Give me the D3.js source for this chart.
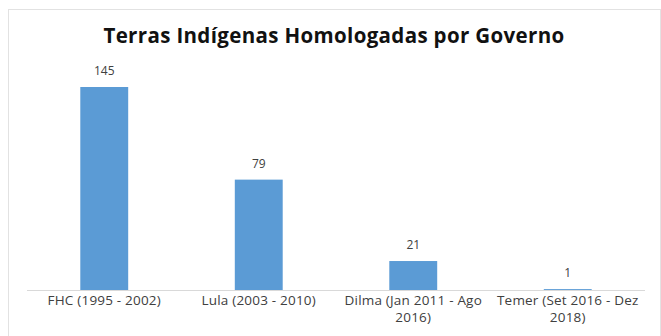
<!DOCTYPE html>
<html>
<head>
<meta charset="utf-8">
<script src="https://d3js.org/d3.v7.min.js"></script>
<style>
    body { margin: 0; background: #fff; }
    text { font-family: "Open Sans", sans-serif; fill: #404040; }
</style>
</head>
<body>
<script>
    // data
    var governos = [
        ["FHC (1995 - 2002)"],
        ["Lula (2003 - 2010)"],
        ["Dilma (Jan 2011 - Ago", "2016)"],
        ["Temer (Set 2016 - Dez", "2018)"]
    ];
    var terras = [145, 79, 21, 1];
    var titulo = "Terras Indígenas Homologadas por Governo";

    var w = 661, h = 336;

    var svg = d3.select("body").append("svg")
        .attr("width", w)
        .attr("height", h);

    // moldura
    svg.append("rect")
        .attr("x", 8.5).attr("y", 9.5)
        .attr("width", 652).attr("height", 330)
        .attr("fill", "#fff")
        .attr("stroke", "#e2e2e2");

    var x = d3.scaleBand()
        .domain(d3.range(terras.length))
        .range([27, 645])
        .paddingInner(0.69)
        .paddingOuter(0.345);

    var y = d3.scaleLinear()
        .domain([0, 145])
        .range([290.5, 87]);

    svg.append("text")
        .attr("x", 334).attr("y", 43)
        .attr("text-anchor", "middle")
        .style("font-size", "20.5px")
        .style("letter-spacing", "0.35px")
        .style("font-weight", "bold")
        .style("fill", "#111")
        .text(titulo);

    svg.selectAll("rect.bar").data(terras).enter().append("rect")
        .attr("class", "bar")
        .attr("x", function(d, i) { return x(i); })
        .attr("y", function(d) { return y(d); })
        .attr("width", x.bandwidth())
        .attr("height", function(d) { return y(0) - y(d); })
        .attr("fill", "#5b9bd5");

    svg.selectAll("text.val").data(terras).enter().append("text")
        .attr("class", "val")
        .attr("x", function(d, i) { return x(i) + x.bandwidth() / 2; })
        .attr("y", function(d) { return y(d) - 12; })
        .attr("text-anchor", "middle")
        .style("font-size", "12px")
        .text(function(d) { return d; });

    // eixo
    svg.append("line")
        .attr("x1", 27).attr("x2", 645)
        .attr("y1", y(0)).attr("y2", y(0))
        .attr("stroke", "#d9d9d9")
        .attr("stroke-width", 1);

    var lab = svg.selectAll("text.cat").data(governos).enter().append("text")
        .attr("class", "cat")
        .attr("x", function(d, i) { return x(i) + x.bandwidth() / 2; })
        .attr("y", 305)
        .attr("text-anchor", "middle")
        .style("font-size", "13.5px")
        .style("letter-spacing", "0.2px");

    lab.selectAll("tspan").data(function(d) { return d; }).enter().append("tspan")
        .attr("x", function() { return d3.select(this.parentNode).attr("x"); })
        .attr("dy", function(d, i) { return i ? 17 : 0; })
        .text(function(d) { return d; });
</script>
</body>
</html>
